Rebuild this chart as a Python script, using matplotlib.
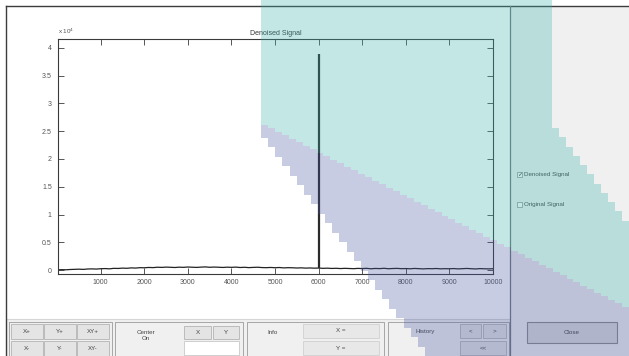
import numpy as np
import matplotlib.pyplot as plt
from matplotlib.patches import Rectangle, Polygon

plt.rcParams['font.family'] = ['Liberation Sans', 'DejaVu Sans']

# Denoised signal, one sample every 100 points, and its single peak
sample_x = np.arange(0, 10001, 100)
denoised = [20, 60, 40, 90, 120, 150, 110, 180, 200, 170,
            230, 260, 210, 300, 280, 340, 310, 380, 350, 420,
            400, 460, 430, 500, 470, 520, 490, 450, 510, 480,
            540, 500, 470, 520, 560, 490, 530, 500, 460, 510,
            480, 520, 450, 490, 430, 470, 500, 440, 420, 460,
            410, 450, 380, 420, 400, 360, 390, 340, 370, 330,
            350, 300, 330, 280, 310, 260, 300, 270, 240, 290,
            260, 300, 220, 280, 250, 310, 230, 270, 290, 240,
            260, 220, 280, 240, 200, 250, 230, 270, 210, 240,
            220, 260, 200, 240, 280, 230, 190, 250, 220, 200,
            230]
peak_x = 6000
peak_y = 38900

x_ticks = [1000, 2000, 3000, 4000, 5000, 6000, 7000, 8000, 9000, 10000]
y_ticks = [0, 5000, 10000, 15000, 20000, 25000, 30000, 35000, 40000]
y_tick_labels = ['0', '0.5', '1', '1.5', '2', '2.5', '3', '3.5', '4']

W, H = 629, 356
fig = plt.figure(figsize=(W / 100, H / 100), dpi=100)
fig.patch.set_facecolor('white')

# window chrome, drawn in pixel units
bg = fig.add_axes([0, 0, 1, 1], zorder=0)
bg.set_xlim(0, W)
bg.set_ylim(H, 0)
bg.axis('off')


def box(ax, x0, y0, x1, y1, fc, ec, lw=0.6):
    ax.add_patch(Rectangle((x0, y0), x1 - x0, y1 - y0, facecolor=fc,
                           edgecolor=ec, linewidth=lw))


def label(x, y, s, size=4.5, ha='center', color='#444444'):
    bg.text(x, y, s, fontsize=size, ha=ha, va='center', color=color)


panel = '#f0f0f0'
box(bg, 510, 6, W + 2, H + 2, panel, 'none')
box(bg, 6, 319, 510, H + 2, panel, 'none')
bg.plot([6, 510], [318.5, 318.5], color='#d6d6d6', lw=0.8)
bg.plot([6, W], [6, 6], color='#3c3c3c', lw=1.0)
bg.plot([6, 6], [6, H], color='#3c3c3c', lw=1.0)
bg.plot([510, 510], [6, H], color='#6f7a7a', lw=0.9)

# zoom buttons
frame = '#9a9a9a'
btn = '#e4e4e4'
btn_edge = '#b4b4b4'
box(bg, 9, 322, 112, H + 2, 'none', frame)
for i, (top, bottom) in enumerate([('X+', 'X-'), ('Y+', 'Y-'), ('XY+', 'XY-')]):
    x0 = 11 + i * 33
    box(bg, x0, 324, x0 + 32, 339, btn, btn_edge)
    box(bg, x0, 341, x0 + 32, 356, btn, btn_edge)
    label(x0 + 16, 331.5, top)
    label(x0 + 16, 348.5, bottom)

# center-on group
box(bg, 115, 322, 243, H + 2, 'none', frame)
label(146, 332, 'Center')
label(146, 339, 'On')
box(bg, 184, 326, 211, 339, btn, btn_edge)
box(bg, 213, 326, 239, 339, btn, btn_edge)
label(197.5, 332.5, 'X')
label(226, 332.5, 'Y')
box(bg, 184, 341, 239, 355, 'white', '#c8c8c8')

# info group
box(bg, 247, 322, 384, H + 2, 'none', frame)
label(273, 332, 'Info')
box(bg, 303, 324, 379, 338, '#e8e8e8', '#d0d0d0')
box(bg, 303, 341, 379, 355, '#e8e8e8', '#d0d0d0')
label(341, 331, 'X =')
label(341, 348, 'Y =')

# history group
box(bg, 388, 322, 509, H + 2, 'none', frame)
label(425, 332, 'History')
box(bg, 460, 324, 481, 338, btn, btn_edge)
box(bg, 483, 324, 506, 338, btn, btn_edge)
box(bg, 460, 341, 506, 355, btn, btn_edge)
label(470.5, 331, '<')
label(494.5, 331, '>')
label(483, 348, '<<')

# close button
box(bg, 527, 322, 617, 343, '#dcdcdc', '#8c8c8c', lw=0.8)
label(572, 332.5, 'Close')

# signal selection check boxes
box(bg, 517, 172, 522, 177, 'white', '#8a8a8a', lw=0.5)
bg.text(519.5, 174.8, '\u2713', fontsize=4.5, ha='center', va='center',
        color='#333333', family='DejaVu Sans')
label(524, 174.5, 'Denoised Signal', ha='left')
box(bg, 517, 202, 522, 207, 'white', '#8a8a8a', lw=0.5)
label(524, 204.5, 'Original Signal', ha='left')

# plot area
ax = fig.add_axes([58 / W, 1 - 274 / H, 435 / W, 235 / H], zorder=1)
ax.set_facecolor('white')
ax.plot(sample_x, denoised, color='#222222', lw=0.9)
ax.vlines(peak_x, denoised[list(sample_x).index(peak_x)], peak_y,
          color='#2a2a2a', lw=1.6)
ax.set_xlim(20, 10000)
ax.set_ylim(-720, 41620)
ax.set_xticks(x_ticks)
ax.set_xticklabels([str(t) for t in x_ticks])
ax.set_yticks(y_ticks)
ax.set_yticklabels(y_tick_labels)
ax.tick_params(direction='in', length=4, width=0.6, top=True, right=True,
               labelsize=5, labelcolor='#555555', color='#3a3a3a')
ax.tick_params(axis='y', pad=4.5)
ax.tick_params(axis='x', pad=3.5)
for sp in ax.spines.values():
    sp.set_color('#3a3a3a')
    sp.set_linewidth(0.8)
ax.set_title('Denoised Signal', fontsize=5, color='#333333', pad=3)
ax.text(0, 1.012, r'x 10$^4$', transform=ax.transAxes, fontsize=4.5,
        ha='left', va='bottom', color='#555555')

# translucent highlight regions on top of everything
ov = fig.add_axes([0, 0, 1, 1], zorder=3)
ov.set_xlim(0, W)
ov.set_ylim(H, 0)
ov.patch.set_alpha(0)
ov.axis('off')


def staircase(p0, p1, step=7):
    (x0, y0), (x1, y1) = p0, p1
    n = max(1, int(round(abs(x1 - x0) / step)))
    xs = np.linspace(x0, x1, n + 1)
    ys = np.linspace(y0, y1, n + 1)
    pts = []
    for i in range(n):
        pts += [(xs[i], ys[i]), (xs[i + 1], ys[i])]
    pts.append((x1, y1))
    return pts


split = staircase((261, 125), (W, 310))
teal = ([(261, 0), (552, 0), (552, 128)] + staircase((552, 128), (W, 230))
        + [(W, 310)] + split[::-1])
lavender = split + [(W, H), (432, H)] + staircase((432, H), (261, 128))
ov.add_patch(Polygon(teal, closed=True, facecolor='#3ab2ac', alpha=0.3,
                     edgecolor='none'))
ov.add_patch(Polygon(lavender, closed=True, facecolor='#4858a5', alpha=0.3,
                     edgecolor='none'))

fig.savefig('out.png', dpi=100)
